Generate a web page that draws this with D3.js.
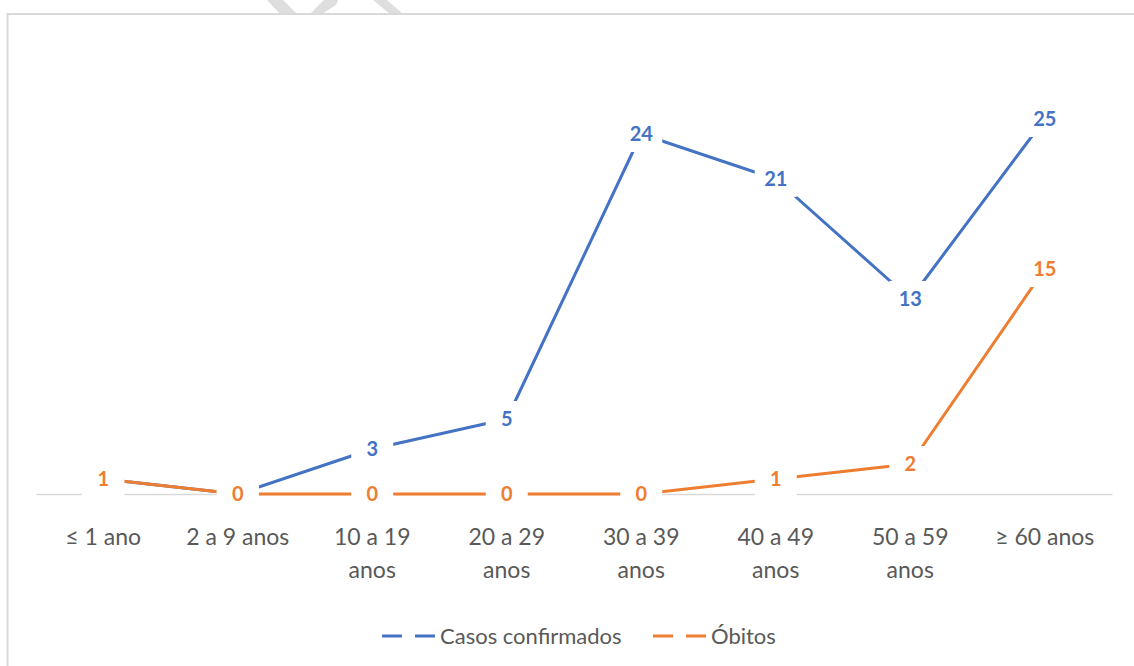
<!DOCTYPE html>
<html><head><meta charset="utf-8">
<script src="https://cdn.jsdelivr.net/npm/d3@7"></script>
<style>
html,body{margin:0;padding:0;background:#fff;}
svg{display:block;}
</style></head>
<body>
<svg id="chart" width="1134" height="666"></svg>
<script>
const categories = [["≤ 1 ano"],["2 a 9 anos"],["10 a 19","anos"],["20 a 29","anos"],["30 a 39","anos"],["40 a 49","anos"],["50 a 59","anos"],["≥ 60 anos"]];
const casosConfirmados = [1,0,3,5,24,21,13,25];
const obitos = [1,0,0,0,0,1,2,15];
const seriesNames = ["Casos confirmados","Óbitos"];
const seriesColors = ["#4472C4","#ED7D31"];

const FONT = "Lato, 'Open Sans', sans-serif";
const svg = d3.select("#chart");

// faint watermark fragments above the chart area
const wm = svg.append("g").attr("fill","#dedede");
wm.append("path").attr("d","M267,0 L283,0 L297,14 L280,14 Z");
wm.append("path").attr("d","M310,14 L322,14 L336,5 L338,0 L324,0 Z");
wm.append("path").attr("d","M373,0 L387,0 L403,14 L390,14 Z");

// chart area box
svg.append("rect").attr("x",7.5).attr("y",14).attr("width",1140).attr("height",670)
  .attr("fill","#fff").attr("stroke","#d9d9d9").attr("stroke-width",2);

const x = d3.scaleBand().domain(d3.range(categories.length)).range([36,1112]).padding(0);
const y = d3.scaleLinear().domain([0,30]).range([494,44]);
const cx = i => x(i) + x.bandwidth()/2;

// category axis line
const xAxis = d3.axisBottom(x).tickSize(0).tickFormat("");
const gAxis = svg.append("g").attr("transform",`translate(0,${y(0)})`).call(xAxis);
gAxis.select(".domain").attr("stroke","#d9d9d9").attr("stroke-width",1.5);

// tick labels
const tl = svg.append("g").attr("font-family",FONT).attr("font-size",23).attr("fill","#595959").attr("text-anchor","middle");
categories.forEach((lines,i)=>{
  const t = tl.append("text").attr("x",cx(i)).attr("y",545);
  lines.forEach((ln,j)=>t.append("tspan").attr("x",cx(i)).attr("dy", j===0?0:33).text(ln));
});

const data = [casosConfirmados, obitos];
const line = d3.line().x((d,i)=>cx(i)).y(d=>y(d));
data.forEach((vals,s)=>{
  svg.append("path").datum(vals).attr("d",line).attr("fill","none")
    .attr("stroke",seriesColors[s]).attr("stroke-width",3).attr("stroke-linejoin","round");
});

// data labels with white boxes
const lab = svg.append("g").attr("font-family",FONT).attr("font-size",20).attr("font-weight","bold").attr("text-anchor","middle");
data.forEach((vals,s)=>{
  vals.forEach((v,i)=>{
    lab.append("rect").attr("x",cx(i)-21).attr("y",y(v)-18).attr("width",42).attr("height",36).attr("fill","#fff");
    lab.append("text").attr("x",cx(i)).attr("y",y(v)).attr("dy","0.36em").attr("fill",seriesColors[s]).text(v);
  });
});

// legend
const leg = svg.append("g").attr("font-family",FONT).attr("font-size",22).attr("fill","#595959");
const legX = [382,653];
seriesNames.forEach((n,s)=>{
  leg.append("line").attr("x1",legX[s]).attr("x2",legX[s]+55).attr("y1",636).attr("y2",636)
    .attr("stroke",seriesColors[s]).attr("stroke-width",3).attr("stroke-dasharray","20 13");
  leg.append("text").attr("x",legX[s]+58).attr("y",636).attr("dy","0.35em").text(n);
});
</script>
</body></html>
